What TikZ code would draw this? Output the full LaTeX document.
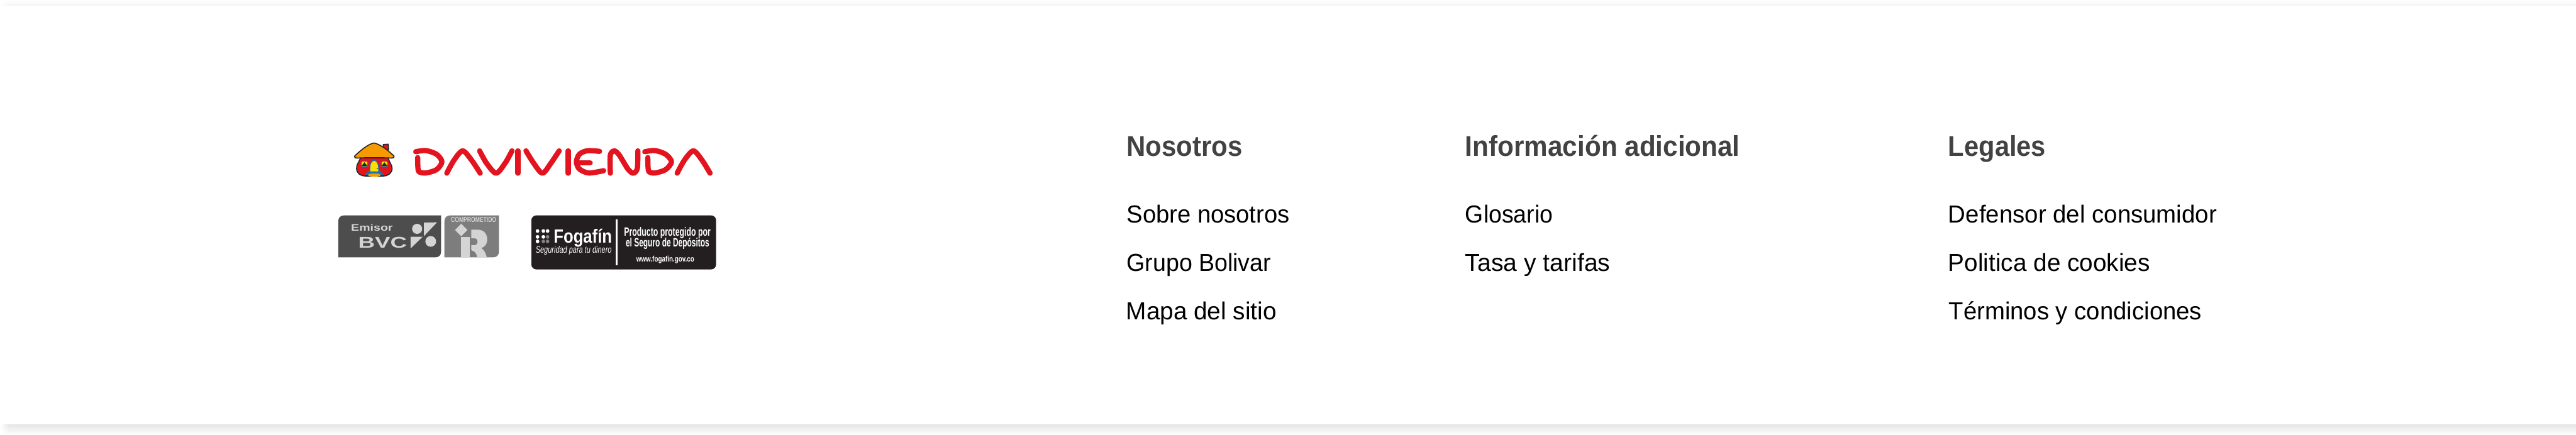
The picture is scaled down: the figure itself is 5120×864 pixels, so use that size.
\documentclass[tikz,border=0pt]{standalone}
\usepackage{fontspec}
\usepackage{graphicx}
\usetikzlibrary{fadings}
\setmainfont{Liberation Sans}
\newlength\fwlen
\newcommand\fw[2]{\setbox0=\hbox{#2}\fwlen=\wd0\relax\pgfmathsetmacro\fwr{#1*0.5/\fwlen}\scalebox{\fwr}[1]{#2}}
\newcommand\fsz[1]{\fontsize{#1pt}{#1pt}\selectfont}
\definecolor{headc}{HTML}{424242}
\definecolor{logored}{HTML}{E3141F}
\definecolor{roofc}{HTML}{F59A00}
\definecolor{blued}{HTML}{0A78B8}
\definecolor{doory}{HTML}{FFDD00}
\definecolor{bvcdark}{HTML}{4D4D4D}
\definecolor{irgray}{HTML}{7D7D7D}
\definecolor{lightg}{HTML}{D4D4D4}
\definecolor{fogk}{HTML}{231F20}
\definecolor{shA}{HTML}{FDFDFD}
\definecolor{shB}{HTML}{F5F5F5}
\definecolor{shC}{HTML}{E6E6E6}
\definecolor{shM}{HTML}{F4F4F4}
\definecolor{shD}{HTML}{FCFCFC}
\tikzset{
  txt/.style={inner sep=0pt,anchor=base west},
  headtxt/.style={txt,text=headc,font=\bfseries\fsz{28.5}},
  linktxt/.style={txt,text=black,font=\fsz{24.5}},
  letterstroke/.style={draw=logored,line width=5.2pt,line cap=round,line join=round},
  houseline/.style={draw=black!85,line width=1pt,line join=round},
  logotxt/.style={txt,text=lightg},
  fogtxt/.style={txt,text=white}
}
\begin{document}
\begin{tikzpicture}[x=0.5pt,y=-0.5pt]
\useasboundingbox (0,0) rectangle (5120,864);
\fill[white] (0,0) rectangle (5120,864);
% page shadows
\shade[top color=shA,bottom color=shB] (0,0) rectangle (5120,12);
\shade[top color=shC,middle color=shM,bottom color=shD] (0,844) rectangle (5120,864);
\fill[white,path fading=east] (0,0) rectangle (18,12);
\fill[white,path fading=east] (0,844) rectangle (18,864);

% wordmark
\begin{scope}[shift={(640,250)},x=0.2678pt,y=-0.1667pt]
\draw[letterstroke] plot[smooth] coordinates {(348,155)(385,148)(425,170)(445,215)(425,262)(385,282)(360,275)(356,250)(355,190)};
\draw[letterstroke] plot[smooth] coordinates {(463,283)(490,205)(522,150)(555,205)(587,283)};
\draw[letterstroke] plot[smooth] coordinates {(585,150)(610,222)(646,283)(680,222)(705,150)};
\draw[letterstroke] (727,150) -- (727,283);
\draw[letterstroke] plot[smooth] coordinates {(757,150)(785,222)(818,283)(850,222)(880,150)};
\draw[letterstroke] (914,150) -- (914,283);
\draw[letterstroke] plot[smooth] coordinates {(1030,153)(985,149)(955,170)(944,215)(955,258)(990,282)(1045,268)};
\draw[letterstroke] (950,222) -- (995,222);
\draw[letterstroke] plot[smooth] coordinates {(1070,283)(1070,175)(1085,150)(1103,175)(1135,258)(1155,283)(1170,255)(1172,150)};
\draw[letterstroke] plot[smooth] coordinates {(1198,155)(1235,148)(1275,170)(1297,215)(1275,262)(1235,282)(1214,275)(1210,250)(1209,190)};
\draw[letterstroke] plot[smooth] coordinates {(1318,283)(1345,205)(1378,150)(1410,205)(1440,283)};
\end{scope}

% house
\begin{scope}[shift={(690,270)},x=0.1667pt,y=-0.1667pt]
\filldraw[houseline,fill=logored] (215,52) -- (245,50) -- (247,85) -- (215,80) -- cycle;
\filldraw[houseline,fill=logored] (80,130) .. controls (70,160) and (55,170) .. (56,195) .. controls (57,225) and (80,240) .. (110,240) -- (215,240) .. controls (245,240) and (268,222) .. (268,195) .. controls (268,170) and (250,160) .. (245,130) -- cycle;
\fill[blued] (108,232) .. controls (115,215) and (130,212) .. (133,205) .. controls (132,165) and (145,143) .. (161,143) .. controls (178,143) and (192,165) .. (190,205) .. controls (195,212) and (210,215) .. (216,232) -- cycle;
\fill[doory] (138,212) .. controls (135,170) and (147,150) .. (161,150) .. controls (176,150) and (187,170) .. (185,212) -- cycle;
\fill[black] (180,196) circle[radius=3];
\fill[roofc] (162,234) ellipse[x radius=38,y radius=10];
\filldraw[draw=blued,line width=.8pt,fill=doory,rounded corners=1pt] (84,152) rectangle (123,184);
\fill[black!85] (86,180) -- (103,158) -- (120,180) -- cycle;
\filldraw[draw=blued,line width=.8pt,fill=doory,rounded corners=1pt] (203,152) rectangle (241,184);
\fill[black!85] (205,180) -- (222,158) -- (239,180) -- cycle;
\filldraw[houseline,fill=roofc] (44,122) .. controls (70,95) and (125,48) .. (160,43) .. controls (195,48) and (255,95) .. (280,122) .. controls (282,130) and (275,133) .. (265,133) .. controls (215,130) and (110,130) .. (58,133) .. controls (48,133) and (42,130) .. (44,122) -- cycle;
\end{scope}

% BVC and iR
\begin{scope}[shift={(640,400)},x=0.1667pt,y=-0.1667pt]
\fill[bvcdark] (97,335) -- (97,120) .. controls (97,98) and (110,85) .. (132,85) -- (710,85) -- (710,300) .. controls (710,322) and (697,335) .. (675,335) -- cycle;
\fill[irgray] (730,335) -- (730,120) .. controls (730,98) and (743,85) .. (765,85) -- (1055,85) -- (1055,300) .. controls (1055,322) and (1042,335) .. (1020,335) -- cycle;
\node[logotxt,font=\bfseries\fsz{9.5}] (emisor) at (172,178) {\fw{83}{Emisor}};
\node[logotxt,font=\bfseries\fsz{15.5}] (bvc) at (215,280) {\fw{97}{BVC}};
\fill[lightg] (567,165) circle[radius=30];
\fill[lightg] (648,240) circle[radius=32];
\fill[lightg] (608,128) -- (686,126) -- (608,208) -- cycle;
\fill[lightg] (528,212) -- (600,212) -- (528,282) -- cycle;
\node[logotxt,font=\bfseries\fsz{7}] (compr) at (768,126) {\fw{90}{COMPROMETIDO}};
\fill[lightg] (830,135) -- (867,172) -- (830,209) -- (793,172) -- cycle;
\fill[lightg] (830,212) rectangle (880,335);
\fill[lightg] (890,170) -- (930,170) .. controls (970,172) and (985,200) .. (985,230) .. controls (985,255) and (970,272) .. (950,280) .. controls (970,295) and (978,315) .. (982,335) -- (925,335) .. controls (922,315) and (915,300) .. (890,292) -- (890,262) -- (915,262) .. controls (932,258) and (932,225) .. (915,222) -- (890,222) -- cycle;
\end{scope}

% Fogafin
\begin{scope}[shift={(1030,410)},x=0.1667pt,y=-0.1667pt]
\fill[fogk,rounded corners=5pt] (78,55) rectangle (1180,377);
\fill[white] (582,78) rectangle (594,353);
\fill[white] (115,148) circle[radius=11];
\fill[white] (150,148) circle[radius=11];
\fill[white] (175,148) circle[radius=11];
\fill[white] (115,183) circle[radius=11];
\fill[white] (150,183) circle[radius=11];
\fill[gray] (175,183) circle[radius=11];
\fill[white] (115,210) circle[radius=11];
\fill[gray] (150,210) circle[radius=11];
\fill[gray] (175,210) circle[radius=11];
\node[fogtxt,font=\bfseries\fsz{19}] (fogafin) at (210,220) {\fw{116}{Fogafín}};
\node[fogtxt,font=\itshape\fsz{9.5}] (seguridad) at (103,278) {\fw{151}{Seguridad para tu dinero}};
\node[fogtxt,font=\bfseries\fsz{12}] (producto) at (630,177) {\fw{172}{Producto protegido por}};
\node[fogtxt,font=\bfseries\fsz{12}] (seguro) at (640,243) {\fw{166}{el Seguro de Depósitos}};
\node[fogtxt,font=\bfseries\fsz{8}] (www) at (703,332) {\fw{115}{www.fogafin.gov.co}};
\end{scope}

% columns
\node[headtxt] (h1) at (2239,311) {\fw{230}{Nosotros}};
\node[linktxt] (a1) at (2239,443.5) {\fw{324}{Sobre nosotros}};
\node[linktxt] (a2) at (2239,539.5) {\fw{287}{Grupo Bolivar}};
\node[linktxt] (a3) at (2238,635.5) {\fw{299}{Mapa del sitio}};
\node[headtxt] (h2) at (2912,311) {\fw{546}{Información adicional}};
\node[linktxt] (b1) at (2912,443.5) {\fw{174}{Glosario}};
\node[linktxt] (b2) at (2912,539.5) {\fw{288}{Tasa y tarifas}};
\node[headtxt] (h3) at (3872,311) {\fw{194}{Legales}};
\node[linktxt] (c1) at (3872,443.5) {\fw{534}{Defensor del consumidor}};
\node[linktxt] (c2) at (3872,539.5) {\fw{401}{Politica de cookies}};
\node[linktxt] (c3) at (3873,635.5) {\fw{503}{Términos y condiciones}};
\end{tikzpicture}
\end{document}
